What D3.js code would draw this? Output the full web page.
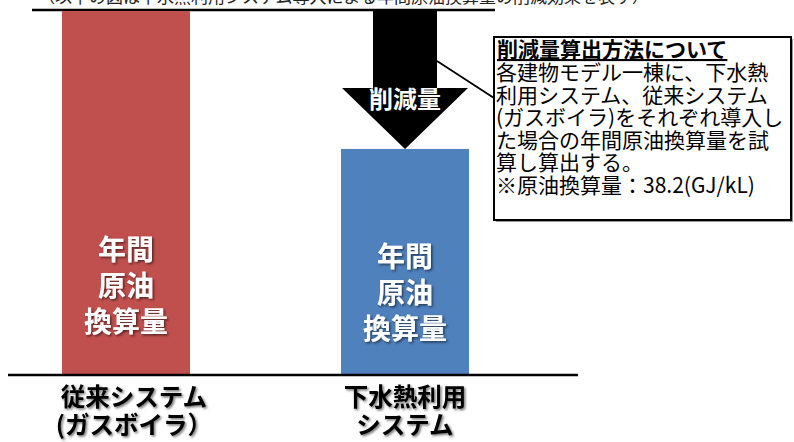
<!DOCTYPE html>
<html>
<head>
<meta charset="utf-8">
<script src="https://cdn.jsdelivr.net/npm/d3@7"></script>
<style>
  body { margin: 0; background: #fff; }
  svg { display: block; font-family: "Noto Sans CJK JP", "Noto Sans", sans-serif; }
</style>
</head>
<body>
<div class="content"></div>
<script>
const w = 794;
const h = 442;

// data
const categories = ['従来システム', '下水熱利用システム'];
const catLabels = [['従来システム', '(ガスボイラ）'], ['下水熱利用', 'システム']];
const values = [100, 62];
const barColors = ['#C0504D', '#4F81BD'];
const barText = ['年間', '原油', '換算量'];
const arrowText = '削減量';
const noteTitle = '削減量算出方法について';
const noteLines = [
	'各建物モデル一棟に、下水熱',
	'利用システム、従来システム',
	'(ガスボイラ)をそれぞれ導入し',
	'た場合の年間原油換算量を試',
	'算し算出する。',
	'※原油換算量：38.2(GJ/kL)'
];
const topText = '（以下の図は下水熱利用システム導入による年間原油換算量の削減効果を表す）';

const svg = d3.select('.content').append('svg')
	.attr('width', w)
	.attr('height', h);

const defs = svg.append('defs');
const shadow = defs.append('filter').attr('id', 'shadow')
	.attr('x', '-20%').attr('y', '-20%').attr('width', '140%').attr('height', '140%');
shadow.append('feDropShadow')
	.attr('dx', 1.5).attr('dy', 1.5).attr('stdDeviation', 0.8)
	.attr('flood-color', '#000').attr('flood-opacity', 0.55);

const xScale = d3.scalePoint()
	.domain(categories)
	.range([126, 405]);

const yScale = d3.scaleLinear()
	.domain([0, 100])
	.range([374, 11]);

const barW = 128;

// top cut-off caption
svg.append('text')
	.attr('x', 38)
	.attr('y', 3)
	.attr('font-size', 17)
	.attr('fill', '#222')
	.text(topText);

svg.append('line')
	.attr('x1', 32).attr('x2', 495)
	.attr('y1', 10).attr('y2', 10)
	.attr('stroke', '#000').attr('stroke-width', 2.5);

// bars
svg.selectAll('rect.bar')
	.data(values)
	.enter()
	.append('rect')
	.attr('class', 'bar')
	.attr('x', (d, i) => xScale(categories[i]) - barW / 2)
	.attr('y', (d) => yScale(d))
	.attr('width', barW)
	.attr('height', (d) => yScale(0) - yScale(d))
	.attr('fill', (d, i) => barColors[i]);

// labels inside bars (one text, stacked lines)
const barLabelTop = [260, 267];
values.forEach((v, i) => {
	const t = svg.append('text')
		.attr('text-anchor', 'middle')
		.attr('font-size', 28)
		.attr('font-weight', 'bold')
		.attr('fill', '#fff')
		.attr('filter', 'url(#shadow)');
	barText.forEach((s, j) => {
		t.append('tspan')
			.attr('x', xScale(categories[i]))
			.attr('y', barLabelTop[i] + j * 36)
			.text(s);
	});
});

// baseline
svg.append('line')
	.attr('x1', 8).attr('x2', 578)
	.attr('y1', yScale(0) + 1).attr('y2', yScale(0) + 1)
	.attr('stroke', '#000').attr('stroke-width', 2.5);

// category labels
const catX = [134, 405];
catLabels.forEach((lines, i) => {
	const t = svg.append('text')
		.attr('text-anchor', 'middle')
		.attr('font-size', 24.5)
		.attr('font-weight', 'bold')
		.attr('fill', '#000')
		.attr('filter', 'url(#shadow)');
	lines.forEach((s, j) => {
		t.append('tspan')
			.attr('x', catX[i])
			.attr('y', 406 + j * 28)
			.text(s);
	});
});

// reduction arrow from top of first bar to top of second bar
const ax = xScale(categories[1]);
const yTop = yScale(values[0]);
const yTip = yScale(values[1]);
const headY = yTip - 61;
const shaftHalf = 32;
const headHalf = 63;
svg.append('path')
	.attr('d', `M${ax - shaftHalf},${yTop} L${ax + shaftHalf},${yTop} L${ax + shaftHalf},${headY}
		L${ax + headHalf},${headY} L${ax},${yTip} L${ax - headHalf},${headY} L${ax - shaftHalf},${headY} Z`)
	.attr('fill', '#000');

svg.append('text')
	.attr('x', ax)
	.attr('y', headY + 14)
	.attr('text-anchor', 'middle')
	.attr('dominant-baseline', 'middle')
	.attr('font-size', 24)
	.attr('font-weight', 'bold')
	.attr('fill', '#fff')
	.text(arrowText);

// callout
const box = { x: 494, y: 37, w: 297, h: 183 };
svg.append('line')
	.attr('x1', ax + shaftHalf).attr('y1', 61)
	.attr('x2', box.x).attr('y2', 98)
	.attr('stroke', '#000').attr('stroke-width', 1.8);

svg.append('rect')
	.attr('x', box.x + 2).attr('y', box.y + 2)
	.attr('width', box.w).attr('height', box.h)
	.attr('fill', '#999');
svg.append('rect')
	.attr('x', box.x).attr('y', box.y)
	.attr('width', box.w).attr('height', box.h)
	.attr('fill', '#fff')
	.attr('stroke', '#000')
	.attr('stroke-width', 2);

const note = svg.append('text')
	.attr('font-size', 21)
	.attr('fill', '#000');

note.append('tspan')
	.attr('x', box.x + 3)
	.attr('y', box.y + 20)
	.attr('font-weight', 'bold')
	.attr('text-decoration', 'underline')
	.text(noteTitle);

note.selectAll('tspan.line')
	.data(noteLines)
	.enter()
	.append('tspan')
	.attr('class', 'line')
	.attr('x', box.x + 2)
	.attr('y', (d, i) => box.y + 43 + i * 22.6)
	.text((d) => d);
</script>
</body>
</html>
